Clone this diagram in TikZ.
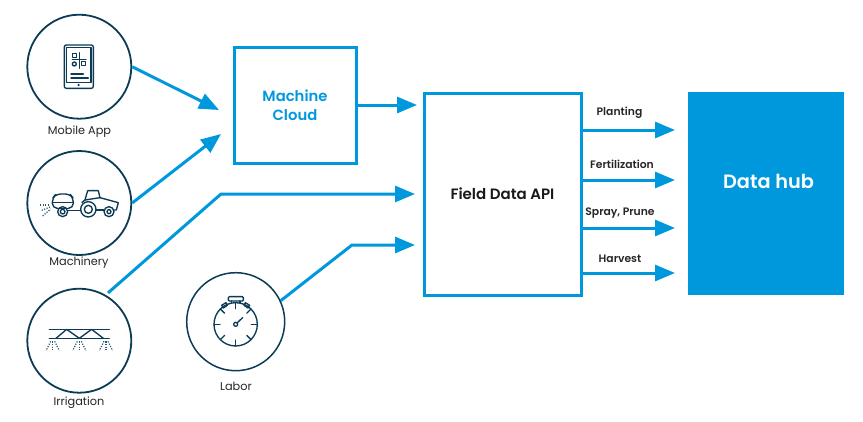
\documentclass[tikz,border=0pt]{standalone}
\usepackage{fontspec}
\setmainfont{Poppins}
\newfontfamily\semibold{Poppins SemiBold}
\usetikzlibrary{arrows.meta}
\definecolor{flow}{HTML}{0098DD}
\definecolor{ink}{HTML}{0B3B55}
\tikzset{
  source/.style={circle,draw=ink,line width=1.8pt,inner sep=0pt,minimum size=#1},
  srclabel/.style={font=\fontsize{11.3}{13}\selectfont\color{black!85},inner sep=0pt},
  edgelab/.style={font=\fontsize{10.8}{13}\semibold\color{black!85},inner sep=0pt},
  flowbox/.style={draw=flow,line width=3pt,fill=white,inner sep=0pt},
  flowline/.style={draw=flow,line width=3pt,-{Triangle[length=20pt,width=16pt]}},
  icon/.style={draw=ink,line width=1.35pt,line join=round,line cap=round},
  spray/.style={draw=ink!85,line width=1.2pt,dash pattern=on 1.2pt off 1.4pt},
  zoomA/.style={shift={(#1)},x=0.3333pt,y=-0.3333pt}
}
\begin{document}
\begin{tikzpicture}[x=1pt,y=-1pt]
\useasboundingbox (0,0) rectangle (863,421);
\fill[white] (0,0) rectangle (863,421);
% sources
\node[source=104pt] (mobile) at (79.3,66.7) {};
\node[source=104pt] (machinery) at (79.3,203) {};
\node[source=104pt] (irrigation) at (79.3,340.7) {};
\node[source=98pt,line width=1.5pt] (labor) at (235.7,321.7) {};
\node[srclabel] (lmobile) at (79.5,132) {Mobile App};
\node[srclabel] (lmachinery) at (79,263) {Machinery};
\node[srclabel] (lirrigation) at (79,403) {Irrigation};
\node[srclabel] (llabor) at (236,386) {Labor};
% boxes
\node[flowbox,minimum width=122pt,minimum height=116pt,align=center,font=\fontsize{14.8}{19}\semibold\color{flow}] (cloud) at (295,105) {Machine\\Cloud};
\node[flowbox,minimum width=157pt,minimum height=202pt,font=\fontsize{15}{18}\semibold\color{black!90}] (field) at (502.5,194) {Field Data API};
\node[draw=none,fill=flow,minimum width=156pt,minimum height=203pt,inner sep=0pt] (hub) at (766,193.5) {};
\node[font=\fontsize{19.3}{22}\semibold\color{white},inner sep=0pt] (hublabel) at (768.5,181.5) {Data hub};
% connector ends
\coordinate (t1) at (219,110);
\coordinate (t2) at (221,134);
\coordinate (b3) at (221,194);
\coordinate (t3) at (415,194);
\coordinate (b4) at (352,245);
\coordinate (t4) at (415,245);
\coordinate (t5) at (417,105);
\coordinate (o1) at (675,130);
\coordinate (o2) at (675,180);
\coordinate (o3) at (675,228);
\coordinate (o4) at (675,273);
\draw[flowline] (mobile.east) -- (t1);
\draw[flowline] (machinery.east) -- (t2);
\draw[flowline,shorten <=3pt] (irrigation.60) -- (b3) -- (t3);
\draw[flowline] (labor.25) -- (b4) -- (t4);
\draw[flowline] (cloud.east) -- (t5);
\draw[flowline] (field.east |- o1) -- (o1);
\draw[flowline] (field.east |- o2) -- (o2);
\draw[flowline] (field.east |- o3) -- (o3);
\draw[flowline] (field.east |- o4) -- (o4);
\node[edgelab] (e1) at (619.5,113) {Planting};
\node[edgelab] (e2) at (622,164.5) {Fertilization};
\node[edgelab] (e3) at (620,213.5) {Spray, Prune};
\node[edgelab] (e4) at (620,258.5) {Harvest};
% phone icon
\begin{scope}[zoomA={20,5}]
\draw[icon,rounded corners=2pt] (133,120) rectangle (220,250);
\draw[icon] (140,128) rectangle (213,232);
\fill[ink] (176,240) circle (3.5);
\draw[icon] (178,143) -- (178,190) (157,163) -- (198,163);
\draw[icon] (157,145) rectangle (169,157);
\draw[icon] (184,169) rectangle (197,182);
\draw[icon] (163,177) circle (6);
\draw[icon] (153,207) -- (190,207) (153,219) -- (205,219);
\end{scope}
% tractor icon
\begin{scope}[zoomA={20,145}]
\draw[icon,rounded corners=5pt] (110,190) -- (97,190) -- (97,160) -- (108,147) -- (150,147) -- (160,160) -- (160,190) -- (145,190);
\draw[icon] (97,172) -- (160,172);
\draw[icon] (110,190) -- (147,190);
\draw[icon] (128,200) circle (15) (128,200) circle (7);
\draw[icon] (205,193) circle (23) (205,193) circle (12);
\draw[icon] (267,200) circle (15) (267,200) circle (6);
\draw[icon] (145,197) -- (183,197);
\draw[icon] (186,172) -- (195,165) -- (203,137) -- (235,137) -- (240,158) -- (295,173) -- (289,195) -- (283,195);
\draw[icon] (228,195) -- (251,195);
\draw[icon] (195,165) -- (240,158);
\draw[spray] (60,180) -- (90,180);
\draw[spray] (65,196) -- (90,186);
\draw[spray] (68,213) -- (92,192);
\end{scope}
% boom sprayer icon
\begin{scope}[zoomA={20,280}]
\draw[icon] (88,148) -- (268,148) (88,175) -- (268,175);
\draw[icon] (108,175) -- (140,148) -- (178,175) -- (215,148) -- (250,175);
\foreach \c in {98,178,258}{
  \draw[spray] (\c-6,184) -- (\c-20,212);
  \draw[spray] (\c,184) -- (\c,212);
  \draw[spray] (\c+6,184) -- (\c+20,212);
}
\end{scope}
% stopwatch icon
\begin{scope}[zoomA={180,270}]
\draw[icon] (167,163) circle (65);
\draw[icon,rounded corners=1pt] (145,80) rectangle (190,93);
\draw[icon] (155,93) -- (155,99) (180,93) -- (180,99);
\draw[icon] (125,106) -- (138,98) -- (142,106) -- (130,114) -- cycle;
\draw[icon] (196,98) -- (209,106) -- (204,114) -- (192,106) -- cycle;
\foreach \a in {0,45,...,315}{
  \draw[icon] ({167+65*cos(\a)},{163+65*sin(\a)}) -- ({167+47*cos(\a)},{163+47*sin(\a)});
}
\draw[icon] (167,163) circle (6);
\draw[icon] (172,158) -- (188,143);
\end{scope}
\end{tikzpicture}
\end{document}
